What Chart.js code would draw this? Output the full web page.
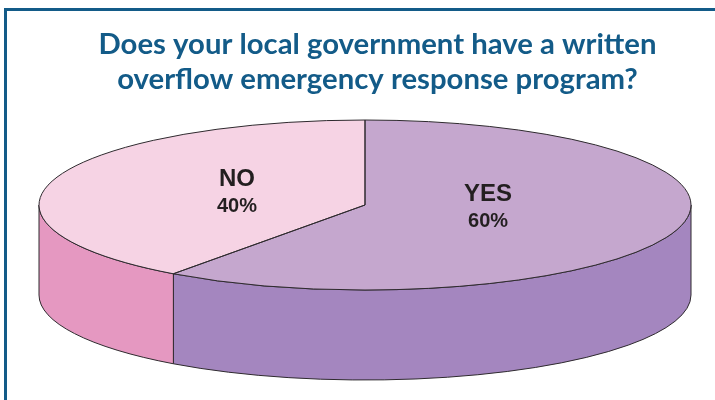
<!DOCTYPE html>
<html>
<head>
<meta charset="utf-8">
<script src="https://cdn.jsdelivr.net/npm/chart.js@4"></script>
<style>
  html, body { margin: 0; padding: 0; background: #ffffff; }
  #wrap { position: relative; width: 715px; height: 400px; overflow: hidden; }
  #frame { position: absolute; left: 4px; top: 8px; width: 900px; height: 600px;
           border-left: 3px solid #135b88; border-top: 3px solid #135b88; box-sizing: border-box; }
  canvas { position: absolute; left: 0; top: 0; }
</style>
</head>
<body>
<div id="wrap">
  <div id="frame"></div>
  <canvas id="c" width="715" height="400"></canvas>
</div>
<script>
// ---- data ----
const categories = ['YES', 'NO'];
const values = [60, 40];
const titleLines = ['Does your local government have a written', 'overflow emergency response program?'];

// ---- styles ----
const topColors = ['#c5a7ce', '#f6d3e4'];
const sideColors = ['#a486bf', '#e598c1'];
const outline = '#2e2a2e';

const pie3d = {
  id: 'pie3d',
  beforeDatasetsDraw(chart, args, opts) {
    const ctx = chart.ctx;
    const arcs = chart.getDatasetMeta(0).data;
    if (!arcs.length) return;
    const { cx, cy, rx, ry, depth } = opts;
    const TWO = Math.PI * 2;
    // side walls (front half only)
    arcs.forEach((arc, i) => {
      const s = arc.startAngle, e = arc.endAngle;
      [-TWO, 0, TWO].forEach(k => {
        const a = Math.max(s, 0 + k), b = Math.min(e, Math.PI + k);
        if (b <= a) return;
        ctx.save();
        ctx.beginPath();
        ctx.ellipse(cx, cy, rx, ry, 0, a, b, false);
        ctx.lineTo(cx + Math.cos(b) * rx, cy + depth + Math.sin(b) * ry);
        ctx.ellipse(cx, cy + depth, rx, ry, 0, b, a, true);
        ctx.closePath();
        ctx.fillStyle = chart.data.datasets[0].sideColor[i];
        ctx.fill();
        ctx.lineWidth = 1;
        ctx.strokeStyle = outline;
        ctx.lineJoin = 'round';
        ctx.stroke();
        ctx.restore();
      });
    });
    // squash the library's pie into the top face ellipse
    const a0 = arcs[0];
    const r = a0.outerRadius;
    ctx.save();
    ctx.translate(cx, cy);
    ctx.scale(rx / r, ry / r);
    ctx.translate(-a0.x, -a0.y);
  },
  afterDatasetsDraw(chart, args, opts) {
    const ctx = chart.ctx;
    const arcs = chart.getDatasetMeta(0).data;
    if (!arcs.length) return;
    ctx.restore();
    const { cx, cy, rx, ry } = opts;
    const total = values.reduce((p, q) => p + q, 0);
    arcs.forEach((arc, i) => {
      const s = arc.startAngle, e = arc.endAngle;
      ctx.save();
      ctx.beginPath();
      ctx.moveTo(cx, cy);
      ctx.lineTo(cx + Math.cos(s) * rx, cy + Math.sin(s) * ry);
      ctx.ellipse(cx, cy, rx, ry, 0, s, e, false);
      ctx.closePath();
      ctx.lineWidth = 1;
      ctx.strokeStyle = outline;
      ctx.lineJoin = 'round';
      ctx.stroke();
      ctx.restore();
    });
    arcs.forEach((arc, i) => {
      const m = (arc.startAngle + arc.endAngle) / 2;
      const lx = cx + Math.cos(m) * rx * opts.labelFactor + opts.labelShiftX[i];
      const ly = cy + Math.sin(m) * ry * opts.labelFactor + opts.labelShiftY[i];
      ctx.save();
      ctx.fillStyle = '#231f20';
      ctx.textAlign = 'center';
      ctx.textBaseline = 'middle';
      ctx.font = 'bold 24px "Liberation Sans", Arial, sans-serif';
      ctx.fillText(chart.data.labels[i], lx, ly - 13);
      ctx.font = 'bold 20px "Liberation Sans", Arial, sans-serif';
      ctx.fillText(Math.round(values[i] / total * 100) + '%', lx, ly + 14);
      ctx.restore();
    });
  }
};

new Chart(document.getElementById('c'), {
  type: 'pie',
  data: {
    labels: categories,
    datasets: [{
      data: values,
      backgroundColor: topColors,
      sideColor: sideColors,
      borderWidth: 0,
      clip: false
    }]
  },
  plugins: [pie3d],
  options: {
    responsive: false,
    animation: false,
    events: [],
    layout: { padding: { left: 40, right: 0, top: 0, bottom: 10 } },
    plugins: {
      legend: { display: false },
      tooltip: { enabled: false },
      title: {
        display: true,
        text: titleLines,
        color: '#135b88',
        font: { family: 'Lato, "Open Sans", sans-serif', size: 29.3, weight: 'bold', lineHeight: 1.2 },
        padding: { top: 27, bottom: 10 }
      },
      pie3d: { cx: 365, cy: 205, rx: 326, ry: 85, depth: 90, labelFactor: 0.4,
               labelShiftX: [-1, -4], labelShiftY: [-8, -2] }
    }
  }
});
</script>
</body>
</html>
